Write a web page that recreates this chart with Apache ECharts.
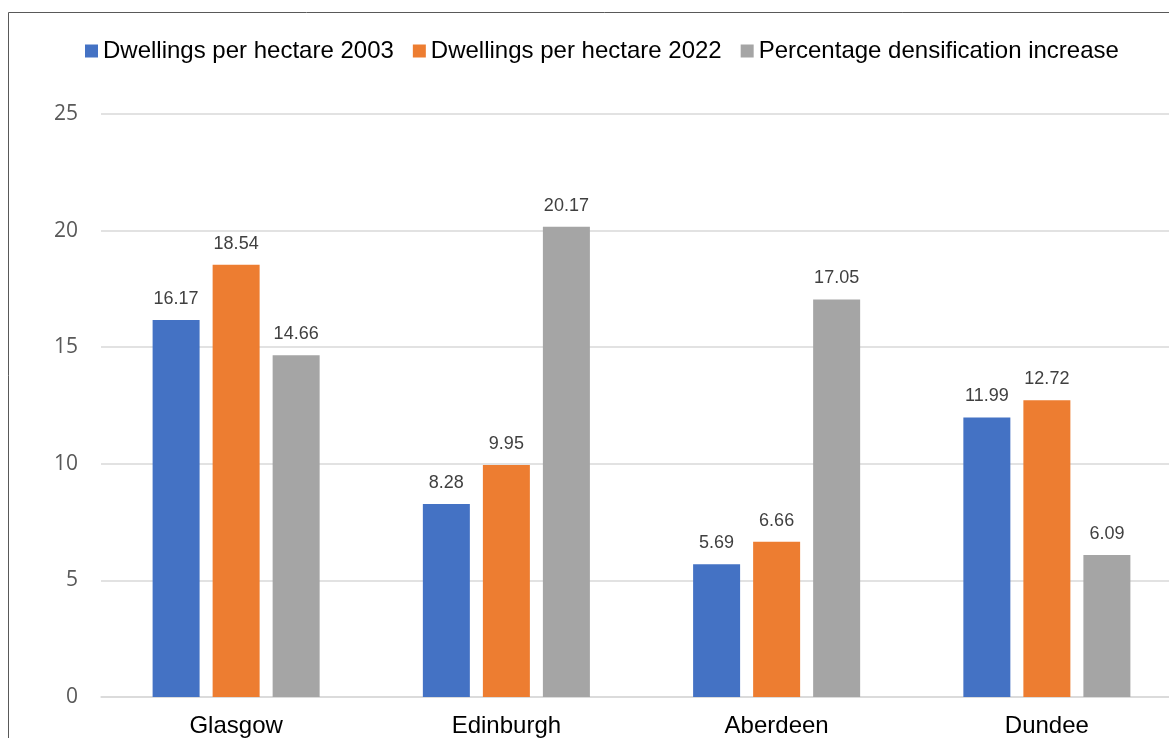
<!DOCTYPE html>
<html>
<head>
<meta charset="utf-8">
<script src="https://cdn.jsdelivr.net/npm/echarts@6/dist/echarts.min.js"></script>
<style>
  html, body { margin: 0; padding: 0; background: #fff; overflow: hidden; }
  /* drawing area runs past the right edge of the window, so the last category is clipped */
  #chart { width: 1200px; height: 738px; }
</style>
</head>
<body>
<div id="chart"></div>
<script>
const cities = ['Glasgow', 'Edinburgh', 'Aberdeen', 'Dundee'];
const density2003 = [16.17, 8.28, 5.69, 11.99];
const density2022 = [18.54, 9.95, 6.66, 12.72];
const densificationPct = [14.66, 20.17, 17.05, 6.09];
const seriesNames = ['Dwellings per hectare 2003', 'Dwellings per hectare 2022', 'Percentage densification increase'];
const seriesColors = ['#4472c4', '#ed7d31', '#a5a5a5'];

const FONT = '"Liberation Sans", Arial, sans-serif';
const TICK_FONT = '"Open Sans", "Liberation Sans", sans-serif';

const chart = echarts.init(document.getElementById('chart'));

function barSeries(i, values) {
  return {
    name: seriesNames[i],
    type: 'bar',
    data: values,
    barWidth: 47,
    barGap: '27.7%',
    itemStyle: { color: seriesColors[i] },
    label: {
      show: true,
      position: 'top',
      distance: 12,
      color: '#404040',
      fontSize: 18,
      fontFamily: FONT,
      formatter: p => p.value.toFixed(2)
    }
  };
}

chart.setOption({
  animation: false,
  textStyle: { fontFamily: FONT },
  graphic: [{
    type: 'rect',
    shape: { x: 8.5, y: 12.5, width: 1250, height: 800 },
    style: { fill: 'none', stroke: '#595959', lineWidth: 1 },
    silent: true,
    z: -1
  }],
  legend: {
    top: 39,
    left: 85,
    padding: 0,
    itemWidth: 13,
    itemHeight: 13,
    itemGap: 19,
    icon: 'rect',
    textStyle: { fontSize: 24, color: '#000', fontFamily: FONT },
    data: seriesNames
  },
  grid: { left: 101, top: 114, width: 1081, height: 585 },
  xAxis: {
    type: 'category',
    data: cities,
    axisLine: { lineStyle: { color: '#d9d9d9', width: 1.5 } },
    axisTick: { show: false },
    axisLabel: { fontSize: 24, color: '#000', margin: 17, fontFamily: FONT }
  },
  yAxis: {
    type: 'value',
    min: 0,
    max: 25,
    interval: 5,
    axisLine: { show: false },
    axisTick: { show: false },
    splitLine: { lineStyle: { color: '#d9d9d9', width: 1.5 } },
    axisLabel: { fontSize: 21, color: '#595959', margin: 23, fontFamily: TICK_FONT }
  },
  series: [
    barSeries(0, density2003),
    barSeries(1, density2022),
    barSeries(2, densificationPct)
  ]
});
</script>
</body>
</html>
